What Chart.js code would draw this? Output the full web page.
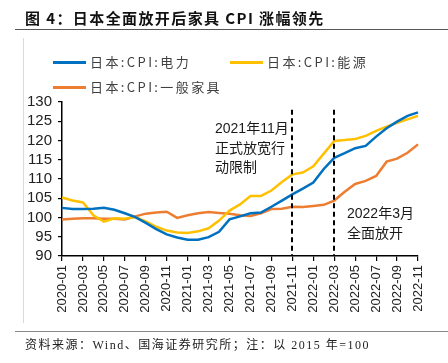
<!DOCTYPE html>
<html lang="zh">
<head>
<meta charset="UTF-8">
<title>日本全面放开后家具CPI涨幅领先</title>
<script src="https://cdn.jsdelivr.net/npm/chart.js"></script>
<style>
  html, body { margin: 0; padding: 0; background: #fff; }
  #wrap { position: relative; width: 448px; height: 363px; overflow: hidden; }
  #chart { position: absolute; left: 0; top: 0; }
  .abs { position: absolute; white-space: nowrap; }
  #title { left: 25px; top: 7px; font: bold 15px "Noto Sans CJK SC"; letter-spacing: 1.4px; color: #111; }
  #titleRule { left: 15px; top: 29px; width: 433px; height: 0; border-top: 1.5px solid #555; }
  #sideRule { left: 23px; top: 38px; width: 0; height: 285px; border-left: 1px solid #d9d9d9; }
  #footRule { left: 15px; top: 331px; width: 433px; height: 0; border-top: 1.5px solid #888; }
  #source { left: 25px; top: 335px; font: 12px "Liberation Serif", "Noto Sans CJK SC"; letter-spacing: 1.5px; color: #222; }
  .leg { font: 13px "Noto Sans CJK SC"; letter-spacing: 2.4px; color: #404040; line-height: 16px; }
  .leg i { display: inline-block; width: 33px; height: 3px; vertical-align: middle; margin-right: 4px; position: relative; top: -1px; }
  .note { font: 14px "Liberation Sans", "Noto Sans CJK SC"; color: #1a1a1a; line-height: 19.5px; }
</style>
</head>
<body>
<div id="wrap">
  <canvas id="chart" width="448" height="363"></canvas>
  <div id="title" class="abs">图 4：日本全面放开后家具 CPI 涨幅领先</div>
  <div id="titleRule" class="abs"></div>
  <div id="sideRule" class="abs"></div>
  <div id="legend"></div>
  <div class="abs note" style="left:215px; top:119px;">2021年11月<br>正式放宽行<br>动限制</div>
  <div class="abs note" style="left:347px; top:204px;">2022年3月<br>全面放开</div>
  <div id="footRule" class="abs"></div>
  <div id="source" class="abs">资料来源：Wind、国海证券研究所；注：以 2015 年=100</div>
</div>
<script>
  // 月份 2020-01 ~ 2022-11
  const months = [
    '2020-01','2020-02','2020-03','2020-04','2020-05','2020-06','2020-07','2020-08','2020-09','2020-10','2020-11','2020-12',
    '2021-01','2021-02','2021-03','2021-04','2021-05','2021-06','2021-07','2021-08','2021-09','2021-10','2021-11','2021-12',
    '2022-01','2022-02','2022-03','2022-04','2022-05','2022-06','2022-07','2022-08','2022-09','2022-10','2022-11'
  ];

  // 日本:CPI:电力
  const cpiPower = [102.5, 102.2, 102.2, 102.3, 102.5, 102.0, 101.1, 100.1, 98.6, 97.0, 95.6, 94.8,
    94.2, 94.2, 94.9, 96.3, 99.5, 100.3, 101.1, 101.3, 102.8, 104.4, 106.0, 107.5,
    109.1, 112.6, 115.5, 116.7, 118.0, 118.6, 121.0, 123.2, 124.9, 126.4, 127.3];

  // 日本:CPI:能源
  const cpiEnergy = [105.2, 104.4, 103.9, 100.6, 98.9, 99.8, 99.7, 100.1, 99.0, 97.6, 96.6, 96.1,
    96.0, 96.4, 97.2, 99.2, 101.8, 103.4, 105.6, 105.6, 107.0, 109.2, 111.2, 111.7,
    113.3, 116.6, 119.9, 120.1, 120.4, 121.2, 122.5, 123.6, 124.6, 125.5, 126.4];

  // 日本:CPI:一般家具
  const cpiFurniture = [99.5, 99.7, 99.8, 99.8, 99.7, 99.7, 99.5, 100.3, 101.0, 101.3, 101.5, 99.9,
    100.6, 101.1, 101.4, 101.2, 101.0, 100.6, 100.4, 101.1, 102.2, 102.3, 102.8, 102.7,
    103.0, 103.3, 104.4, 106.7, 108.7, 109.5, 110.8, 114.5, 115.3, 116.8, 119.0];

  const seriesNames = ['日本:CPI:电力', '日本:CPI:能源', '日本:CPI:一般家具'];
  const seriesColors = ['#0070C0', '#FFC000', '#ED7D31'];

  // 虚线标注的月份
  const markerMonths = ['2021-11', '2022-03'];
  const markerTop = 128;

  // legend (html)
  const legendPos = [[53, 54], [230, 54], [53, 79]];
  const legendBox = document.getElementById('legend');
  seriesNames.forEach((name, i) => {
    const d = document.createElement('div');
    d.className = 'abs leg';
    d.style.left = legendPos[i][0] + 'px';
    d.style.top = legendPos[i][1] + 'px';
    d.innerHTML = '<i style="background:' + seriesColors[i] + '"></i>' + name;
    legendBox.appendChild(d);
  });

  const markerLines = {
    id: 'markerLines',
    afterDatasetsDraw(chart) {
      const { ctx, scales: { x, y } } = chart;
      ctx.save();
      ctx.strokeStyle = '#000';
      ctx.lineWidth = 2;
      ctx.setLineDash([5, 3.5]);
      markerMonths.forEach(m => {
        const px = Math.round(x.getPixelForValue(months.indexOf(m)));
        ctx.beginPath();
        ctx.moveTo(px, y.getPixelForValue(markerTop));
        ctx.lineTo(px, y.getPixelForValue(90));
        ctx.stroke();
      });
      ctx.restore();
    }
  };

  const values = [cpiPower, cpiEnergy, cpiFurniture];

  new Chart(document.getElementById('chart'), {
    type: 'line',
    data: {
      labels: months,
      datasets: values.map((v, i) => ({
        label: seriesNames[i],
        data: v,
        borderColor: seriesColors[i],
        backgroundColor: seriesColors[i],
        borderWidth: 2.5,
        pointRadius: 0,
        tension: 0,
        fill: false
      }))
    },
    options: {
      responsive: false,
      animation: false,
      devicePixelRatio: 1,
      layout: { padding: { left: 0, top: 102, right: 30, bottom: 38 } },
      plugins: { legend: { display: false }, tooltip: { enabled: false } },
      scales: {
        x: {
          offset: false,
          grid: { drawOnChartArea: false, drawTicks: true, tickLength: 5, color: '#000', lineWidth: 1.2 },
          border: { display: true, color: '#000', width: 1.5 },
          ticks: {
            autoSkip: false,
            maxRotation: 90,
            minRotation: 90,
            padding: 4,
            color: '#222',
            font: { family: 'Liberation Sans', size: 13 },
            callback: function (val, idx) { return idx % 2 === 0 ? this.getLabelForValue(val) : null; }
          },
          afterFit(scale) { scale.height = 69; }
        },
        y: {
          min: 90,
          max: 130,
          grid: { drawOnChartArea: false, drawTicks: true, tickLength: 4, color: '#000', lineWidth: 1.2 },
          border: { display: true, color: '#000', width: 1.5 },
          ticks: {
            stepSize: 5,
            autoSkip: false,
            padding: 6,
            color: '#222',
            font: { family: 'Liberation Sans', size: 15 }
          },
          afterFit(scale) { scale.width = 62; }
        }
      }
    },
    plugins: [markerLines]
  });
</script>
</body>
</html>
